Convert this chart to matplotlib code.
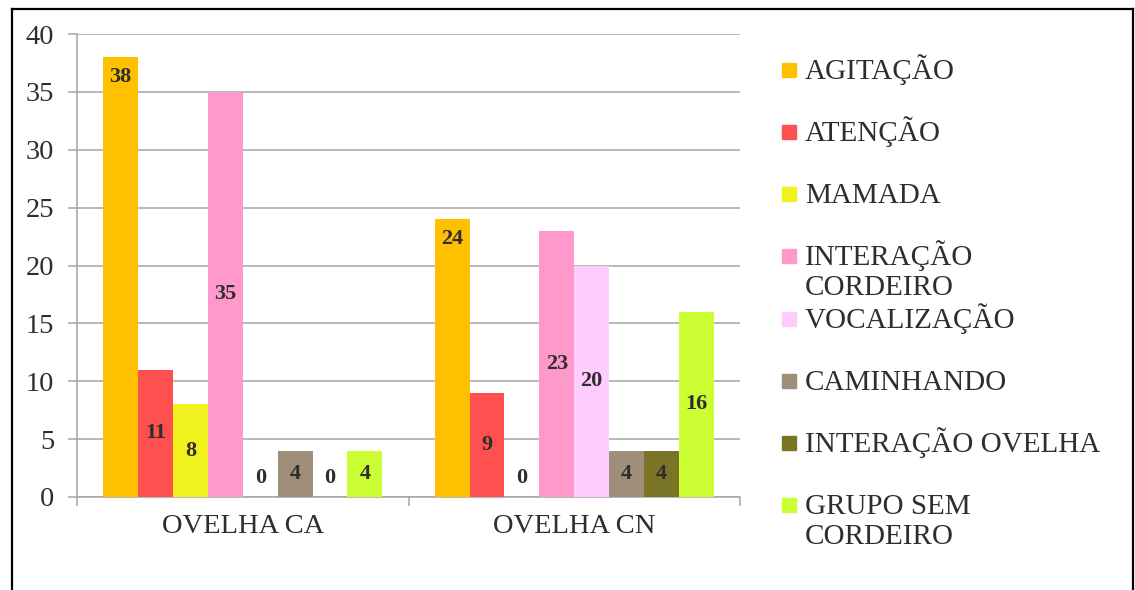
import matplotlib
matplotlib.use('Agg')
import matplotlib.pyplot as plt
from matplotlib.patches import Rectangle
from matplotlib.lines import Line2D

# Dados do gráfico
grupos = ['OVELHA CA', 'OVELHA CN']
comportamentos = ['AGITAÇÃO', 'ATENÇÃO', 'MAMADA', 'INTERAÇÃO\nCORDEIRO',
                  'VOCALIZAÇÃO', 'CAMINHANDO', 'INTERAÇÃO OVELHA',
                  'GRUPO SEM\nCORDEIRO']
ovelha_ca = [38, 11, 8, 35, 0, 4, 0, 4]
ovelha_cn = [24, 9, 0, 23, 20, 4, 4, 16]
cores = ['#FFC000', '#FF5050', '#F0F21E', '#FF99CC',
         '#FFCCFF', '#9E8E7A', '#7A7426', '#CCFF33']
yticks = [0, 5, 10, 15, 20, 25, 30, 35, 40]

W, H = 1135, 590
plt.rcParams['font.family'] = ['Liberation Serif', 'DejaVu Serif']
cor_texto = '#2E2E2A'
cor_grade = '#A6A6A6'

fig = plt.figure(figsize=(W / 100, H / 100), dpi=100)
ax = fig.add_axes([77 / W, 1 - 497 / H, (740 - 77) / W, (497 - 34) / H])

n = len(comportamentos)
largura = 1 / (n + 1.5)
margem = 0.75 * largura
valores = [ovelha_ca, ovelha_cn]

for j, nome in enumerate(comportamentos):
    xs = [g + margem + largura * j for g in range(len(grupos))]
    vs = [valores[g][j] for g in range(len(grupos))]
    barras = ax.bar(xs, vs, width=largura, align='edge', color=cores[j],
                    zorder=3, linewidth=0)
    for b, v in zip(barras, vs):
        xc = b.get_x() + b.get_width() / 2
        if v == 0:
            # rótulo do zero fica um pouco acima da base
            ax.annotate(str(v), (xc, 0), xytext=(0, 13.7),
                        textcoords='offset points', ha='center', va='center',
                        fontsize=16, fontweight='bold', color=cor_texto, zorder=4)
        elif j == 0:
            # agitação: rótulo perto do topo
            ax.annotate(str(v), (xc, v), xytext=(0, -14.6),
                        textcoords='offset points', ha='center', va='center',
                        fontsize=16, fontweight='bold', color=cor_texto, zorder=4)
        else:
            ax.text(xc, v / 2, str(v), ha='center', va='center',
                    fontsize=16, fontweight='bold', color=cor_texto, zorder=4)

ax.set_xlim(0, len(grupos))
ax.set_ylim(0, 40)
ax.set_yticks(yticks)
ax.yaxis.grid(True, color=cor_grade, linewidth=1.1, zorder=0)
ax.tick_params(axis='y', length=6.5, width=1.1, color=cor_grade,
               labelsize=20.5, labelcolor=cor_texto, pad=10)

ax.set_xticks(range(len(grupos) + 1))
ax.set_xticklabels([])
ax.set_xticks([g + 0.5 for g in range(len(grupos))], minor=True)
ax.set_xticklabels(grupos, minor=True)
ax.tick_params(axis='x', which='major', length=6.5, width=1.1, color=cor_grade)
ax.tick_params(axis='x', which='minor', length=0, labelsize=20.5,
               labelcolor=cor_texto, pad=12)

for lado in ['top', 'right']:
    ax.spines[lado].set_visible(False)
for lado in ['left', 'bottom']:
    ax.spines[lado].set_color(cor_grade)
    ax.spines[lado].set_linewidth(1.1)

# Legenda manual (espaçamento fixo como no Excel)
passo = 62.14
for i, nome in enumerate(comportamentos):
    yc = 70 + i * passo
    fig.add_artist(Rectangle((782 / W, 1 - (yc + 7) / H), 14 / W, 14 / H,
                             transform=fig.transFigure, color=cores[i]))
    for k, linha in enumerate(nome.split('\n')):
        fig.text(805 / W, 1 - (yc + 9 + k * 30) / H, linha, ha='left',
                 va='baseline', fontsize=21, color=cor_texto)

# Moldura preta
for xs_, ys_ in [([12, 12], [9, 600]), ([12, 1133], [9, 9]), ([1133, 1133], [9, 600])]:
    fig.add_artist(Line2D([x / W for x in xs_], [1 - y / H for y in ys_],
                          transform=fig.transFigure, color='black', linewidth=1.6))

fig.savefig('out.png', dpi=100)
